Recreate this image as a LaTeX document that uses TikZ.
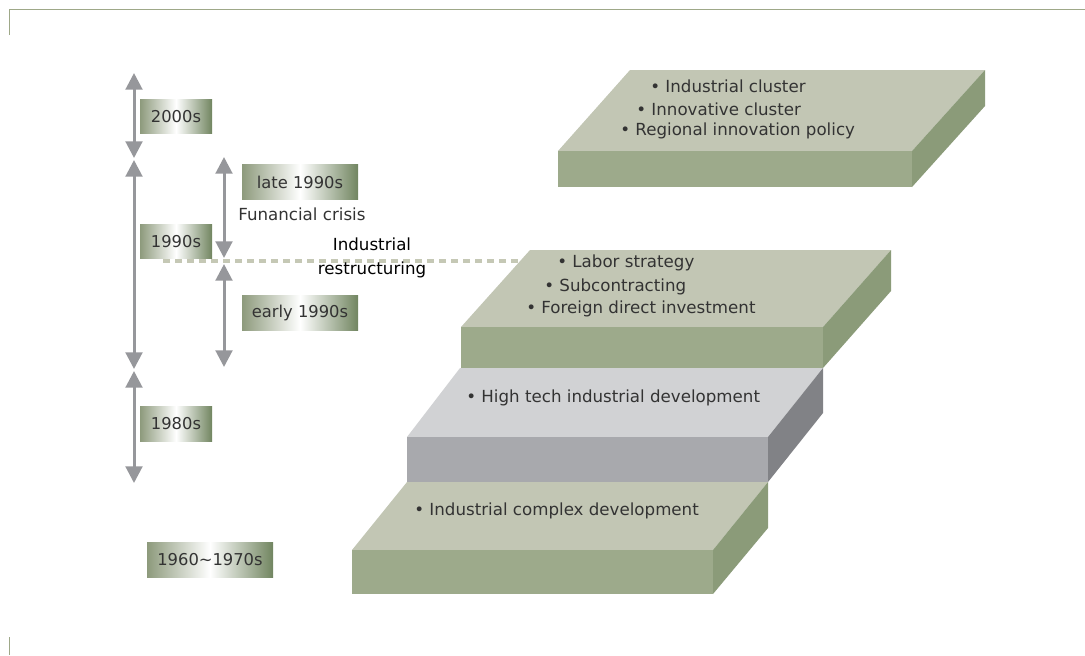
\documentclass[tikz,border=0pt]{standalone}
\usepackage{fontspec}
\setmainfont{DejaVu Sans}
\usepackage{xcolor}
\usepackage{tikz}
\usetikzlibrary{arrows.meta}

\definecolor{framegreen}{HTML}{9EA888}
\definecolor{arrowgray}{HTML}{96979B}
\definecolor{dashgreen}{HTML}{C5C8B5}
\definecolor{boxleft}{HTML}{8D9A7C}
\definecolor{boxright}{HTML}{718560}
\definecolor{textgray}{HTML}{333333}
\definecolor{topgreen}{HTML}{C2C6B4}
\definecolor{frontgreen}{HTML}{9DAA8B}
\definecolor{sidegreen}{HTML}{8B9B79}
\definecolor{topgray}{HTML}{D1D2D4}
\definecolor{frontgray}{HTML}{A8A9AD}
\definecolor{sidegray}{HTML}{818286}

\begin{document}
\begin{tikzpicture}[x=0.6pt,y=-0.6pt,
  span/.style={draw=arrowgray,line width=1.8pt,
    {Triangle[width=10pt,length=10pt]}-{Triangle[width=10pt,length=10pt]}},
  period/.style={left color=boxleft,right color=boxright,middle color=white,
    inner sep=0pt,minimum height=20.7pt,text=textgray,
    font=\fontsize{9.8}{11}\selectfont},
  item/.style={anchor=west,inner sep=0pt,text=textgray,
    font=\fontsize{10}{12}\selectfont},
  frame/.style={draw=framegreen,line width=1pt}]
  \useasboundingbox (0,0) rectangle (1085,655);

  % frame corners
  \draw[frame] (9.5,35) -- (9.5,9.5) -- (1085,9.5);
  \draw[frame] (9.5,637) -- (9.5,655);

  % restructuring line
  \draw[dashgreen,line width=1.9pt,dash pattern=on 4.2pt off 3pt] (163,261) -- (525,261);

  % slab 1960~1970s
  \fill[topgreen] (352,550) -- (407,482) -- (768,482) -- (713,550) -- cycle;
  \fill[frontgreen] (352,550) rectangle (713,594);
  \fill[sidegreen] (713,550) -- (768,482) -- (768,528) -- (713,594) -- cycle;
  % slab 1980s
  \fill[topgray] (407,437) -- (460,368) -- (823,368) -- (768,437) -- cycle;
  \fill[frontgray] (407,437) rectangle (768,482);
  \fill[sidegray] (768,437) -- (823,368) -- (823,413) -- (768,482) -- cycle;
  % slab 1990s
  \fill[topgreen] (461,327) -- (530,250) -- (891,250) -- (823,327) -- cycle;
  \fill[frontgreen] (461,327) rectangle (823,368);
  \fill[sidegreen] (823,327) -- (891,250) -- (891,291) -- (823,368) -- cycle;
  % slab 2000s
  \fill[topgreen] (558,151) -- (630,70) -- (985,70) -- (912,151) -- cycle;
  \fill[frontgreen] (558,151) rectangle (912,187);
  \fill[sidegreen] (912,151) -- (985,70) -- (985,106) -- (912,187) -- cycle;

  % slab texts
  \node[item] (cluster) at (650,86) {\textbullet\ Industrial cluster};
  \node[item] (innov) at (636,109) {\textbullet\ Innovative cluster};
  \node[item] (regional) at (620,131) {\textbullet\ Regional innovation policy};
  \node[item] (labor) at (557,263) {\textbullet\ Labor strategy};
  \node[item] (subcon) at (544,287) {\textbullet\ Subcontracting};
  \node[item] (fdi) at (526,309) {\textbullet\ Foreign direct investment};
  \node[item] (hightech) at (466,398) {\textbullet\ High tech industrial development};
  \node[item] (complex) at (414,511) {\textbullet\ Industrial complex development};

  % time spans
  \coordinate (y2000t) at (134,73);
  \coordinate (y2000b) at (134,158);
  \coordinate (y1990t) at (134,160);
  \coordinate (y1990b) at (134,369);
  \coordinate (y1980t) at (134,371);
  \coordinate (y1980b) at (134,483);
  \coordinate (latet) at (224,157);
  \coordinate (lateb) at (224,258);
  \coordinate (earlyt) at (224,264);
  \coordinate (earlyb) at (224,367);
  \draw[span] (y2000t) -- (y2000b);
  \draw[span] (y1990t) -- (y1990b);
  \draw[span] (y1980t) -- (y1980b);
  \draw[span] (latet) -- (lateb);
  \draw[span] (earlyt) -- (earlyb);

  % period labels
  \node[period,minimum width=43.2pt] (p2000) at (176,116.5) {2000s};
  \node[period,minimum width=43.2pt] (p1990) at (176,241.5) {1990s};
  \node[period,minimum width=43.2pt] (p1980) at (176,424) {1980s};
  \node[period,minimum width=75.6pt] (p1960) at (210,560) {1960\textasciitilde1970s};
  \node[period,minimum width=69.6pt] (plate) at (300,182) {late 1990s};
  \node[period,minimum width=69.6pt] (pearly) at (300,313) {early 1990s};
  \node[item] (crisis) at (238,214) {Funancial crisis};
  \node[align=center,inner sep=0pt,font=\fontsize{10}{14.4}\selectfont] (restr) at (372,258)
    {Industrial\\restructuring};
\end{tikzpicture}
\end{document}
